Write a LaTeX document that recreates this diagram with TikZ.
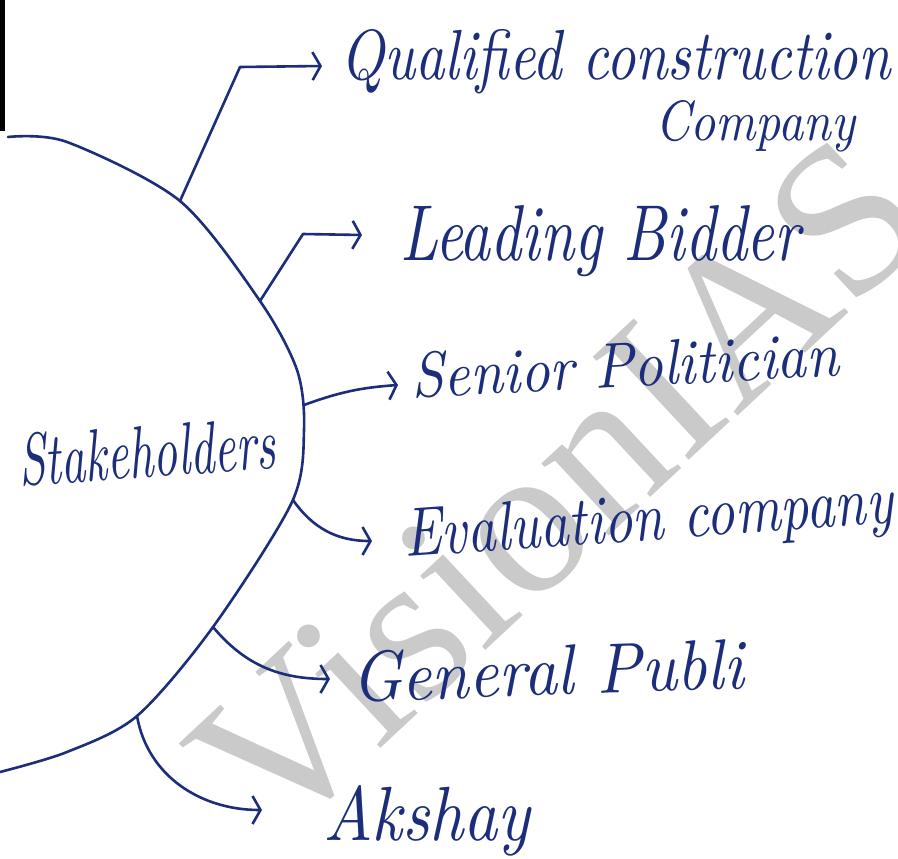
\documentclass[tikz,border=0pt]{standalone}
\usepackage{fontspec}
\usepackage{graphicx}
\usetikzlibrary{arrows.meta}
\newfontfamily\wmfont{Liberation Serif}
\definecolor{inkc}{RGB}{28,46,122}
\definecolor{wmc}{RGB}{202,202,202}
\newcommand\hwtext[3]{\resizebox{#1pt}{#2pt}{\itshape #3}}
\tikzset{
  ink/.style={draw=inkc, line width=2.6pt, line cap=round, line join=round},
  arr/.style={ink, -{Straight Barb[length=8pt,width=28pt,line width=2.6pt]}},
  lbl/.style={text=inkc, inner sep=0pt, anchor=base west},
  wm/.style={text=wmc, inner sep=0pt, font=\wmfont\fontsize{215}{215}\selectfont}
}
\begin{document}
\begin{tikzpicture}[x=1pt,y=-1pt]
\useasboundingbox (0,0) rectangle (898,859);
\fill[white] (0,0) rectangle (898,859);
% watermark
\node[wm, rotate=43] (wmark) at (558,488) {VisionIAS};
% black edge bar
\fill[black] (0,0) rectangle (5,131);
% big arc
\draw[ink] plot[smooth, tension=0.5] coordinates {(8,137) (67,142) (180,201) (260,301) (297,370) (304,430) (292,502) (213,627) (137,716) (67,752) (0,772)};
% branch points
\coordinate (b1) at (180,201); \coordinate (k1) at (240,67); \coordinate (t1) at (322,66);
\coordinate (b2) at (260,301); \coordinate (k2) at (303,234); \coordinate (t2) at (362,235);
\coordinate (b3) at (304,405); \coordinate (t3) at (398,385);
\coordinate (b4) at (293,500); \coordinate (t4) at (372,541);
\coordinate (b5) at (213,627); \coordinate (t5) at (330,679);
\coordinate (b6) at (137,716); \coordinate (t6) at (262,810);
% labels
\node[lbl] (q1) at (340,80) {\hwtext{550}{50}{Qualified construction}};
\node[lbl] (q2) at (655,141) {\hwtext{200}{40}{Company}};
\node[lbl] (lb) at (400,260) {\hwtext{400}{55}{Leading Bidder}};
\node[lbl, rotate=3] (sp) at (412,398) {\hwtext{428}{45}{Senior Politician}};
\node[lbl, rotate=4] (ec) at (405,557) {\hwtext{490}{48}{Evaluation company}};
\node[lbl, rotate=2] (gp) at (352,702) {\hwtext{392}{50}{General Publi}};
\node[lbl] (ak) at (323,840) {\hwtext{207}{55}{Akshay}};
\node[lbl, rotate=4] (st) at (20,486) {\hwtext{257}{52}{Stakeholders}};
% connectors
\draw[arr] (b1) -- (k1) -- (t1);
\draw[arr] (b2) -- (k2) -- (t2);
\draw[arr] (b3) to[bend left=8] (t3);
\draw[arr] (b4) to[out=-55, in=180] (t4);
\draw[arr] (b5) to[out=-50, in=180] (t5);
\draw[arr] (b6) to[out=-80, in=180] (t6);
\end{tikzpicture}
\end{document}
